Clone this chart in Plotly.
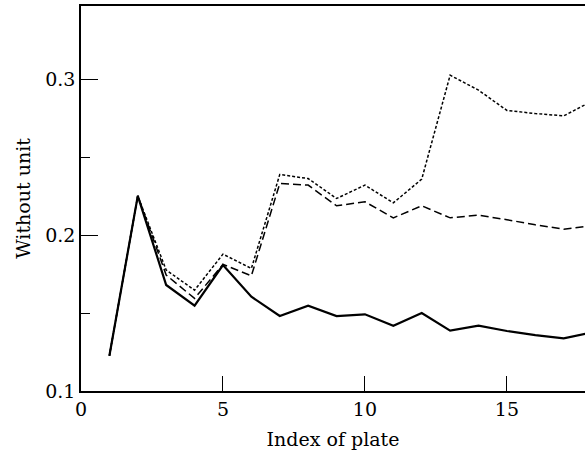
import plotly.graph_objects as go

plate_index = list(range(1, 19))

solid_vals = [0.1226, 0.2252, 0.1680, 0.1547, 0.1808, 0.1605, 0.1481, 0.1547, 0.1481,
              0.1492, 0.1419, 0.1500, 0.1387, 0.1419, 0.1385, 0.1359, 0.1338, 0.1375]
dashed_vals = [0.1226, 0.2252, 0.1744, 0.1594, 0.1812, 0.1739, 0.2331, 0.2321, 0.2188,
               0.2214, 0.2111, 0.2188, 0.2111, 0.2128, 0.2099, 0.2066, 0.2038, 0.2060]
dotted_vals = [0.1226, 0.2252, 0.1776, 0.1647, 0.1878, 0.1786, 0.2389, 0.2363, 0.2235,
               0.2321, 0.2207, 0.2359, 0.3026, 0.2930, 0.2800, 0.2780, 0.2765, 0.2860]

x_tick_vals = [0, 5, 10, 15]
x_tick_text = ["0", "5", "10", "15"]
y_tick_vals = [0.1, 0.2, 0.3]
y_tick_text = ["0.1", "0.2", "0.3"]

FONT = "DejaVu Serif"

fig = go.Figure()
fig.add_trace(go.Scatter(x=plate_index, y=dotted_vals, mode="lines",
                         line=dict(color="black", width=1.5, dash="3px,2px")))
fig.add_trace(go.Scatter(x=plate_index, y=dashed_vals, mode="lines",
                         line=dict(color="black", width=1.5, dash="8px,4px")))
fig.add_trace(go.Scatter(x=plate_index, y=solid_vals, mode="lines",
                         line=dict(color="black", width=2.2)))

fig.update_layout(
    width=585, height=451,
    margin=dict(l=81, r=0, t=6, b=60),
    paper_bgcolor="white", plot_bgcolor="white",
    showlegend=False,
    font=dict(family=FONT, size=19, color="black"),
)
fig.update_xaxes(
    range=[0, 17.75], showgrid=False, zeroline=False,
    showline=True, linecolor="black", linewidth=1.5, mirror=True,
    ticks="inside", ticklen=15, tickwidth=1.2, tickcolor="black",
    tickvals=x_tick_vals, ticktext=x_tick_text,
    title=dict(text="Index of plate", standoff=14, font=dict(family=FONT, size=19)),
    automargin=False,
)
fig.update_yaxes(
    range=[0.1, 0.347], showgrid=False, zeroline=False,
    showline=True, linecolor="black", linewidth=1.5, mirror=False,
    ticks="inside", ticklen=17, tickwidth=1.2, tickcolor="black",
    tickvals=y_tick_vals, ticktext=y_tick_text,
    minor=dict(ticks="inside", ticklen=9, tickwidth=1.2, tickcolor="black",
               tickvals=[0.15, 0.25], showgrid=False),
    title=dict(text="Without unit", standoff=10, font=dict(family=FONT, size=19)),
    automargin=False,
)

fig.write_html("out.html")
